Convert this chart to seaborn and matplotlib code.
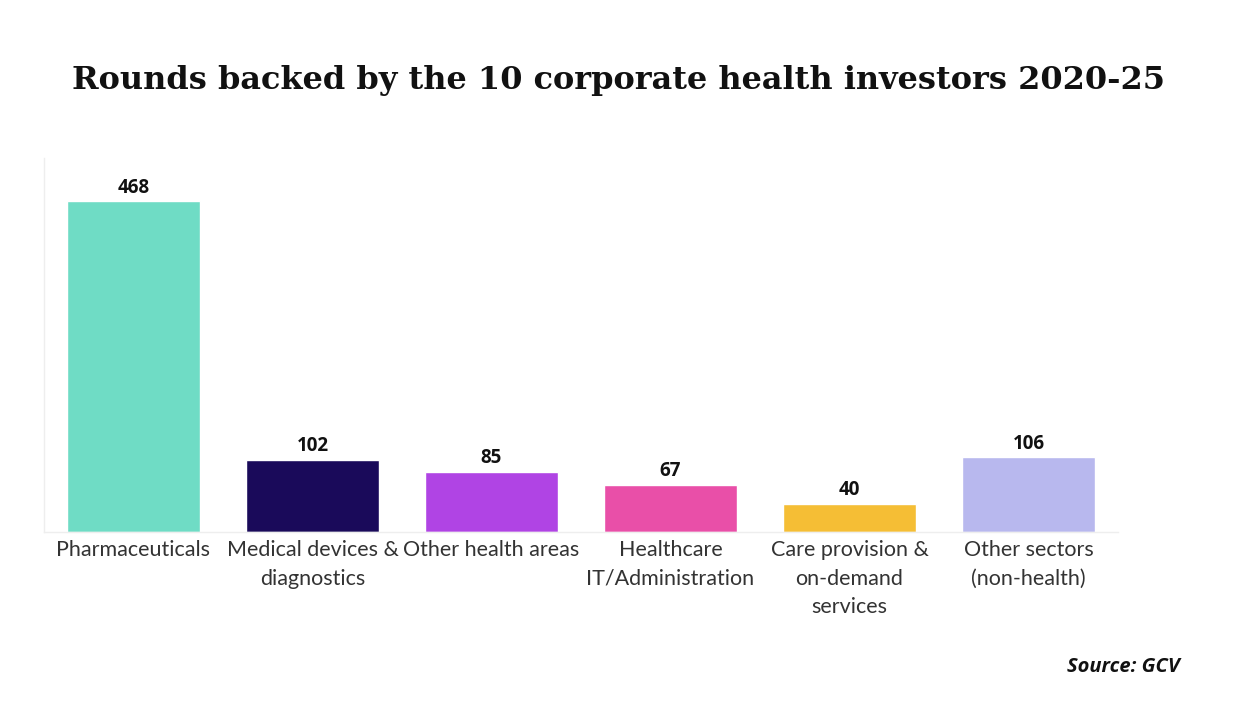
import matplotlib
matplotlib.use("Agg")
import matplotlib.pyplot as plt
import pandas as pd
import seaborn as sns

categories = [
    "Pharmaceuticals",
    "Medical devices &\ndiagnostics",
    "Other health areas",
    "Healthcare\nIT/Administration",
    "Care provision &\non-demand\nservices",
    "Other sectors\n(non-health)",
]
rounds = [468, 102, 85, 67, 40, 106]
colors = ["#6FDCC5", "#1A0A5A", "#B044E4", "#E94FA8", "#F5BE35", "#B8B8EE"]

sns.set_theme(style="white")
plt.rcParams["font.family"] = ["Lato", "DejaVu Sans"]

df = pd.DataFrame({"Sector": categories, "Rounds": rounds})

fig = plt.figure(figsize=(12.37, 7.03), dpi=100)
ax = fig.add_axes([44 / 1237, 1 - 532 / 703, 1074 / 1237, 374 / 703])

sns.barplot(
    data=df, x="Sector", y="Rounds", hue="Sector", palette=colors,
    width=0.745, saturation=1, legend=False, ax=ax,
)

# value labels above each bar
for i, v in enumerate(rounds):
    ax.text(i, v + 5, str(v), ha="center", va="bottom",
            fontsize=13.5, fontweight="bold", color="#111111",
            family=["Open Sans", "DejaVu Sans"])

ax.set_ylim(0, 529)
ax.set_xlim(-0.5, 5.5)
ax.set_yticks([])
ax.set_xlabel("")
ax.set_ylabel("")
ax.set_xticks(range(len(categories)))
ax.set_xticklabels(categories, fontsize=15.5, color="#333333",
                   linespacing=1.52, va="top")
ax.tick_params(axis="x", length=0, pad=6)
sns.despine(ax=ax, top=True, right=True)
for side in ["left", "bottom"]:
    ax.spines[side].set_color("#EEEEEE")
    ax.spines[side].set_linewidth(1)

fig.text(0.5, 1 - 80 / 703, "Rounds backed by the 10 corporate health investors 2020-25",
         ha="center", va="center", fontsize=23, fontweight="bold",
         family=["DejaVu Serif"], color="#111111")
fig.text(1180 / 1237, 1 - 667 / 703, "Source: GCV", ha="right", va="center",
         fontsize=14.5, fontweight="bold", style="italic", color="#111111",
         family=["Open Sans", "DejaVu Sans"])

fig.savefig("out.png", dpi=100, facecolor="white")
